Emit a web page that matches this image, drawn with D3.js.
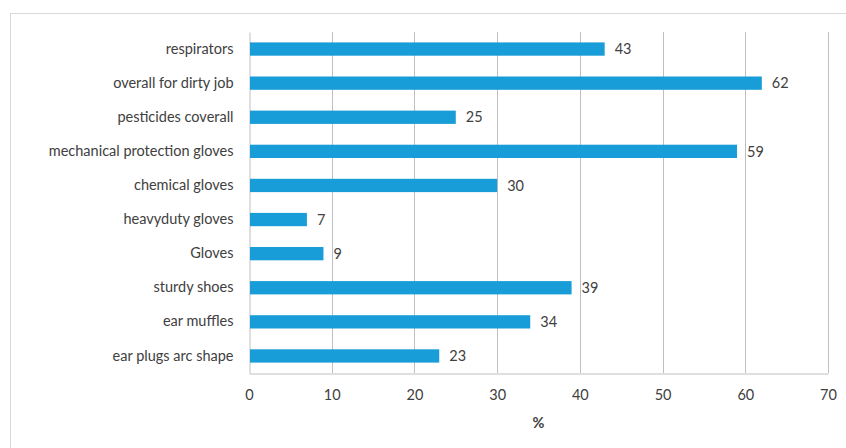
<!DOCTYPE html>
<html>
<head>
<meta charset="utf-8">
<script src="https://cdn.jsdelivr.net/npm/d3@7"></script>
<style>
  body { margin: 0; background: #fff; }
  svg { display: block; font-family: Lato, "Open Sans", sans-serif; }
</style>
</head>
<body>
<svg id="chart" width="846" height="448"></svg>
<script>
// data
let categories = ["respirators", "overall for dirty job", "pesticides coverall",
  "mechanical protection gloves", "chemical gloves", "heavyduty gloves", "Gloves",
  "sturdy shoes", "ear muffles", "ear plugs arc shape"];
let values = [43, 62, 25, 59, 30, 7, 9, 39, 34, 23];
let xTicks = [0, 10, 20, 30, 40, 50, 60, 70];

let svg = d3.select("#chart");
let plotLeft = 249, plotRight = 828, plotTop = 32, plotBottom = 373;
let fontSize = 14.5;

// chart border
svg.append("rect")
  .attr("x", 10.5).attr("y", 13.5)
  .attr("width", 850).attr("height", 450)
  .attr("fill", "none").attr("stroke", "#d9d9d9");

let xScale = d3.scaleLinear().domain([0, 70]).range([plotLeft, plotRight]);
let yScale = d3.scaleBand().domain(categories).range([plotTop, plotBottom]).paddingInner(0.61).paddingOuter(0.305);

// vertical grid lines
svg.selectAll(".grid")
  .data(xTicks.slice(1))
  .enter()
  .append("line")
  .attr("class", "grid")
  .attr("x1", d => Math.round(xScale(d)) + 0.5)
  .attr("x2", d => Math.round(xScale(d)) + 0.5)
  .attr("y1", plotTop).attr("y2", plotBottom)
  .attr("stroke", "#bfbfbf");

// x axis
let xAxis = d3.axisBottom(xScale).tickValues(xTicks).tickSize(0).tickPadding(16);
let gx = svg.append("g")
  .attr("transform", "translate(0," + (plotBottom + 0.5) + ")")
  .call(xAxis);
gx.select(".domain").attr("stroke", "#bfbfbf");
gx.selectAll("text").attr("font-size", fontSize).attr("fill", "#404040").attr("font-family", "Lato, sans-serif");

// y axis
let yAxis = d3.axisLeft(yScale).tickSize(0).tickPadding(16);
let gy = svg.append("g")
  .attr("transform", "translate(" + (plotLeft + 0.5) + ",0)")
  .call(yAxis);
gy.select(".domain").attr("stroke", "#bfbfbf");
gy.selectAll("text").attr("font-size", fontSize).attr("fill", "#404040").attr("font-family", "Lato, sans-serif");

// bars
svg.selectAll(".bar")
  .data(categories)
  .enter()
  .append("rect")
  .attr("class", "bar")
  .attr("x", xScale(0) + 1)
  .attr("y", d => yScale(d))
  .attr("width", (d, i) => xScale(values[i]) - xScale(0) - 1)
  .attr("height", yScale.bandwidth())
  .attr("fill", "#199dd8");

// value labels
svg.selectAll(".val")
  .data(categories)
  .enter()
  .append("text")
  .attr("class", "val")
  .attr("x", (d, i) => xScale(values[i]) + 10)
  .attr("y", d => yScale(d) + yScale.bandwidth() / 2)
  .attr("dy", "0.36em")
  .attr("font-size", fontSize)
  .attr("fill", "#404040")
  .text((d, i) => values[i]);

// axis title
svg.append("text")
  .attr("x", (plotLeft + plotRight) / 2)
  .attr("y", 428)
  .attr("text-anchor", "middle")
  .attr("font-size", fontSize)
  .attr("font-weight", "bold")
  .attr("fill", "#404040")
  .text("%");
</script>
</body>
</html>
